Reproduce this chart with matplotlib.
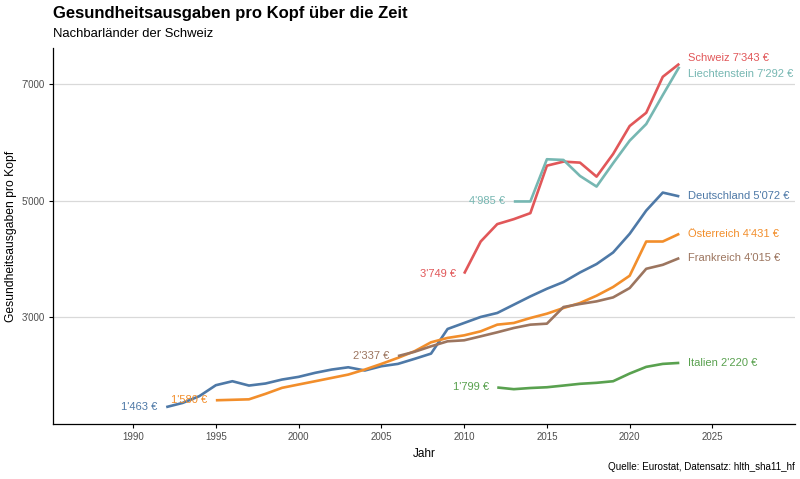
import numpy as np
import matplotlib.pyplot as plt

plt.rcParams['font.family'] = ['Liberation Sans', 'DejaVu Sans']

# Gesundheitsausgaben pro Kopf in Euro
years_de = list(range(1992, 2024))
deutschland = [1463, 1535, 1650, 1838, 1906, 1832, 1867, 1935, 1981, 2050,
               2106, 2145, 2090, 2163, 2203, 2289, 2379, 2801, 2904, 3007,
               3075, 3217, 3359, 3490, 3605, 3769, 3913, 4111, 4431, 4829,
               5137, 5072]

years_at = list(range(1995, 2024))
oesterreich = [1580, 1588, 1596, 1690, 1793, 1850, 1906, 1963, 2020, 2106,
               2203, 2306, 2419, 2573, 2648, 2692, 2761, 2875, 2904, 2989,
               3063, 3160, 3246, 3371, 3520, 3713, 4299, 4299, 4431]

years_fr = list(range(2006, 2024))
frankreich = [2337, 2410, 2504, 2590, 2607, 2675, 2744, 2818, 2875, 2892,
              3177, 3229, 3274, 3342, 3502, 3832, 3900, 4015]

years_it = list(range(2012, 2024))
italien = [1799, 1770, 1790, 1803, 1832, 1862, 1879, 1906, 2038, 2152,
           2203, 2220]

years_ch = list(range(2010, 2024))
schweiz = [3749, 4299, 4597, 4682, 4785, 5598, 5667, 5650, 5410, 5798,
           6277, 6504, 7120, 7343]

years_li = list(range(2013, 2024))
liechtenstein = [4985, 4985, 5708, 5696, 5422, 5240, 5640, 6026, 6311,
                 6807, 7292]

countries = ['Deutschland', 'Österreich', 'Frankreich', 'Italien',
             'Schweiz', 'Liechtenstein']
series = [(years_de, deutschland), (years_at, oesterreich),
          (years_fr, frankreich), (years_it, italien),
          (years_ch, schweiz), (years_li, liechtenstein)]
colors = ['#4E79A7', '#F28E2B', '#9C755F', '#59A14F', '#E15759', '#76B7B2']
# small vertical nudges (points) for end labels so they don't overlap
end_nudge = [0, 0, 0, 0, 4, -5]


def fmt(v):
    return f"{v:,.0f}".replace(",", "'")


fig = plt.figure(figsize=(8, 4.79), dpi=100)
ax = fig.add_axes([0.066, 0.115, 0.928, 0.785])

for name, (x, y), c, dy in zip(countries, series, colors, end_nudge):
    ax.plot(x, y, color=c, lw=1.9, solid_capstyle='butt', zorder=3)
    ax.annotate(f"{fmt(y[0])} €", (x[0], y[0]), xytext=(-6, 0),
                textcoords='offset points', ha='right', va='center',
                color=c, fontsize=8)
    ax.annotate(f"{name} {fmt(y[-1])} €", (x[-1], y[-1]),
                xytext=(6, dy), textcoords='offset points', ha='left',
                va='center', color=c, fontsize=8)

ax.set_xlim(1985.15, 2030)
ax.set_ylim(1175, 7615)
ax.set_xticks(np.arange(1990, 2026, 5))
ax.set_yticks([3000, 5000, 7000])
ax.set_yticklabels([fmt(v) for v in [3000, 5000, 7000]])
ax.grid(axis='y', color='#d9d9d9', lw=0.9)
ax.set_axisbelow(True)
for s in ['top', 'right']:
    ax.spines[s].set_visible(False)
for s in ['left', 'bottom']:
    ax.spines[s].set_color('black')
    ax.spines[s].set_linewidth(0.9)
ax.tick_params(length=3, width=0.8, colors='black', labelcolor='#4d4d4d',
               labelsize=7, pad=3)

ax.set_xlabel('Jahr', fontsize=8.5, labelpad=4)
ax.set_ylabel('Gesundheitsausgaben pro Kopf', fontsize=8.7, labelpad=3)

fig.text(0.066, 0.972, 'Gesundheitsausgaben pro Kopf über die Zeit',
         fontsize=12, fontweight='bold', va='center', ha='left')
fig.text(0.066, 0.93, 'Nachbarländer der Schweiz', fontsize=9.4,
         va='center', ha='left')
fig.text(0.994, 0.025, 'Quelle: Eurostat, Datensatz: hlth_sha11_hf',
         fontsize=7.1, ha='right', va='center')

fig.savefig('out.png', dpi=100)
